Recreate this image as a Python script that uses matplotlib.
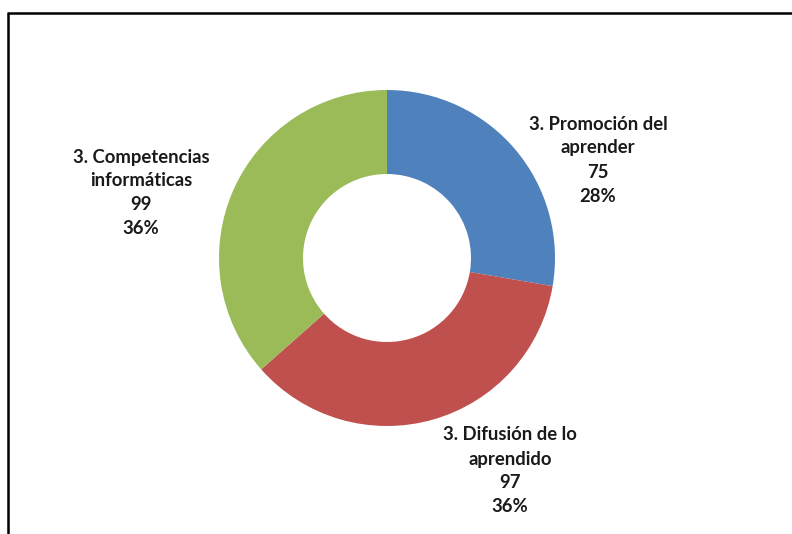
import matplotlib.pyplot as plt

# Data
categorias = ["3. Promoción del\naprender", "3. Difusión de lo\naprendido", "3. Competencias\ninformáticas"]
valores = [75, 97, 99]
porcentajes = ["28%", "36%", "36%"]
colores = ["#4F81BD", "#C0504D", "#9BBB59"]

H = 534
fig = plt.figure(figsize=(7.92, 5.34), dpi=100)
ax = fig.add_axes([0, 0, 1, 1])

ax.pie(valores, colors=colores, startangle=90, counterclock=False,
       center=(387, H - 258), radius=168, frame=True,
       wedgeprops=dict(width=84, linewidth=0))
ax.set_xlim(0, 792)
ax.set_ylim(0, H)
ax.set_aspect("equal")
ax.axis("off")

# label positions (pixels from top-left)
pos = [(598, 160), (510, 471), (141, 193)]
for (x, y), cat, v, p in zip(pos, categorias, valores, porcentajes):
    ax.text(x, H - y, f"{cat}\n{v}\n{p}", ha="center", va="center",
            fontsize=13.3, fontweight="bold", family="Lato",
            linespacing=1.5, color="#1a1a1a")

# border (top and left)
ax.plot([7, 792], [H - 13, H - 13], color="black", lw=1.8, solid_capstyle="butt")
ax.plot([8, 8], [H - 13, 0], color="black", lw=1.8, solid_capstyle="butt")

fig.savefig("out.png", dpi=100)
